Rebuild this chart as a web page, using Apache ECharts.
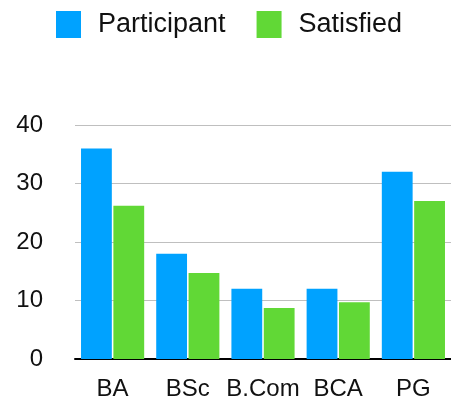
<!DOCTYPE html>
<html>
<head>
<meta charset="utf-8">
<script src="https://cdn.jsdelivr.net/npm/echarts@6/dist/echarts.min.js"></script>
<style>
  html, body { margin: 0; padding: 0; background: #fff; }
  #chart { width: 451px; height: 401px; }
</style>
</head>
<body>
<div id="chart"></div>
<script>
// data
const categories = ['BA', 'BSc', 'B.Com', 'BCA', 'PG'];
const participant = [36, 18, 12, 12, 32];
const satisfied = [26.2, 14.7, 8.7, 9.7, 27];
const yTicks = { min: 0, max: 40, interval: 10 };

const font = '"Liberation Sans", Arial, sans-serif';

const chart = echarts.init(document.getElementById('chart'));
chart.setOption({
  animation: false,
  textStyle: { fontFamily: font },
  legend: {
    top: 11,
    left: 56,
    padding: 0,
    itemWidth: 25,
    itemHeight: 27,
    itemGap: 31,
    icon: 'rect',
    textStyle: { fontSize: 27, color: '#111', fontFamily: font, padding: [4, 0, 0, 12] },
    data: ['Participant', 'Satisfied']
  },
  grid: { left: 75, right: -6, top: 125, bottom: 42, containLabel: false },
  xAxis: {
    type: 'category',
    data: categories,
    axisTick: { show: false },
    axisLine: { lineStyle: { color: '#000', width: 2 } },
    axisLabel: { fontSize: 24, color: '#111', margin: 18, fontFamily: font, interval: 0, hideOverlap: false }
  },
  yAxis: {
    type: 'value',
    min: yTicks.min,
    max: yTicks.max,
    interval: yTicks.interval,
    axisLine: { show: false },
    axisTick: { show: false },
    axisLabel: { fontSize: 24, color: '#111', margin: 32, fontFamily: font },
    splitLine: { lineStyle: { color: '#bfbfbf', width: 1 } }
  },
  series: [
    {
      name: 'Participant',
      type: 'bar',
      data: participant,
      itemStyle: { color: '#00a2ff' },
      barGap: '5%',
      barCategoryGap: '16%'
    },
    {
      name: 'Satisfied',
      type: 'bar',
      data: satisfied,
      itemStyle: { color: '#61d836' }
    }
  ]
});
</script>
</body>
</html>
